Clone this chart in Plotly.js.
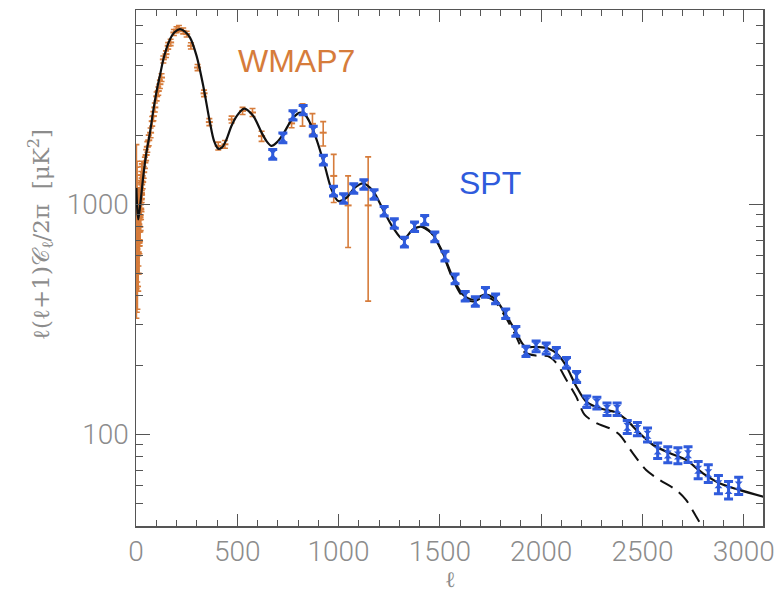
<!DOCTYPE html>
<html>
<head>
<meta charset="utf-8">
<script src="https://cdn.plot.ly/plotly-3.0.1.min.js"></script>
<style>html,body{margin:0;padding:0;background:#fff;}#chart{width:776px;height:596px;}</style>
</head>
<body>
<div id="chart"></div>
<script>
// ---- theory curve (solid: total incl. foregrounds) ----
var thEll = [2, 5, 11, 20, 36, 50, 69, 85, 102, 120, 135, 150, 168, 190, 217, 240, 266, 299, 332, 365, 385, 406, 425, 447, 470, 497, 534, 579, 620, 645, 669, 695, 726, 776, 812, 840, 858, 891, 932, 965, 998, 1039, 1080, 1121, 1170, 1219, 1269, 1318, 1367, 1409, 1458, 1507, 1565, 1614, 1663, 1721, 1770, 1820, 1869, 1918, 1976, 2033, 2083, 2124, 2173, 2222, 2288, 2370, 2420, 2485, 2551, 2633, 2715, 2797, 2880, 2978, 3100];
var thVal = [1180, 1000, 860, 980, 1328, 1650, 2055, 2550, 3113, 3700, 4276, 4750, 5224, 5600, 5780, 5650, 5322, 4423, 3274, 2269, 1890, 1748, 1770, 1919, 2180, 2422, 2610, 2422, 2051, 1880, 1795, 1860, 2018, 2384, 2507, 2420, 2269, 1919, 1468, 1162, 1034, 1069, 1182, 1234, 1143, 951, 792, 704, 778, 800, 753, 637, 479, 405, 386, 405, 390, 338, 286, 242, 240, 237, 222, 198, 162, 139, 130, 124.7, 116, 101.4, 90.2, 83, 77.5, 67.9, 61.4, 57.4, 53.5];

// ---- theory curve (dashed: CMB only) ----
var cmbEll = [1409, 1458, 1507, 1565, 1614, 1663, 1721, 1770, 1820, 1869, 1918, 1976, 2033, 2074, 2124, 2173, 2214, 2272, 2346, 2387, 2452, 2518, 2584, 2666, 2715, 2765, 2794, 2820];
var cmbVal = [800, 750, 632, 470, 396, 378, 396, 380, 328, 275, 228, 220, 219, 205, 173, 146, 122, 112, 105.6, 99.7, 83, 70, 63.5, 57.4, 52, 44, 39.8, 36];

// ---- WMAP7 band powers ----
var wmapEll = [2, 3, 4, 5, 6, 7, 8, 9, 10, 11, 12, 13, 14, 15, 16, 17, 18, 19, 20, 21, 22, 23, 24, 25, 26, 27, 28, 29, 30,
  33, 38, 44, 50, 56, 63, 72, 80, 86, 93, 102, 110, 118, 126, 135, 148, 159, 171, 187, 200, 212, 233, 250, 271, 304, 336, 362,
  406, 439, 472, 526, 575, 620, 768, 822, 871, 924, 976, 1047, 1146];
var wmapVal = [700, 850, 640, 980, 760, 600, 700, 760, 660, 620, 760, 700, 820, 680, 880, 800, 860, 900, 880, 950, 1000, 960, 1100, 1050, 1150, 1120, 1220, 1260, 1300,
  1250, 1380, 1520, 1640, 1780, 1900, 2050, 2300, 2420, 2640, 2950, 3110, 3330, 3560, 4270, 4500, 4890, 5060, 5590, 5750, 5820, 5680, 5500, 4890, 3935, 3040, 2280,
  1795, 1825, 2340, 2550, 2510, 1980, 2250, 2480, 2240, 2050, 1330, 990, 990];
var wmapErrUp = [1120, 600, 500, 560, 400, 320, 330, 330, 280, 250, 280, 250, 270, 220, 270, 230, 240, 240, 230, 230, 240, 220, 240, 220, 240, 220, 240, 240, 240,
  80, 80, 85, 90, 95, 100, 100, 110, 110, 120, 130, 130, 140, 140, 150, 150, 160, 160, 170, 170, 170, 170, 160, 150, 120, 100, 80,
  70, 70, 80, 90, 100, 100, 95, 260, 240, 240, 320, 340, 620];
var wmapErrDown = [380, 420, 300, 420, 300, 250, 260, 260, 220, 200, 220, 200, 220, 180, 220, 190, 200, 200, 190, 190, 200, 190, 200, 190, 200, 190, 200, 200, 200,
  80, 80, 85, 90, 95, 100, 100, 110, 110, 120, 130, 130, 140, 140, 150, 150, 160, 160, 170, 170, 170, 170, 160, 150, 120, 100, 80,
  70, 70, 80, 90, 100, 100, 95, 290, 220, 255, 310, 340, 610];

// ---- SPT band powers ----
var sptEll = [675, 725, 775, 825, 875, 925, 975, 1025, 1075, 1125, 1175, 1225, 1275, 1325, 1375, 1425, 1475, 1525, 1575, 1625, 1675, 1725, 1775, 1825, 1875, 1925, 1975, 2025, 2075, 2125, 2175, 2225, 2275, 2325, 2375, 2425, 2475, 2525, 2575, 2625, 2675, 2725, 2775, 2825, 2875, 2925, 2975];
var sptVal = [1651, 1950, 2441, 2574, 2085, 1560, 1143, 1062, 1174, 1222, 1105, 935, 827, 686, 800, 856, 724, 596, 475, 399, 379, 415, 389, 335, 281, 230, 242, 237, 227, 205, 178, 139, 137, 129, 129, 108, 105.6, 99.7, 85.2, 81.9, 81, 82, 70.2, 67.8, 60.8, 57.4, 60];
var sptErr = [80, 95, 115, 120, 100, 75, 55, 50, 55, 58, 52, 45, 40, 33, 38, 40, 35, 29, 23, 19, 18, 20, 19, 16, 14, 12, 13, 13, 12, 11, 10, 8, 8, 8, 8, 7, 7, 7, 6.5, 6.5, 6.5, 6.5, 6, 6, 5.5, 5, 5.2];

// ---- axis ticks ----
var xTicks = [0, 500, 1000, 1500, 2000, 2500, 3000];
var xMinor = [100, 200, 300, 400, 600, 700, 800, 900, 1100, 1200, 1300, 1400, 1600, 1700, 1800, 1900, 2100, 2200, 2300, 2400, 2600, 2700, 2800, 2900];
var yTicks = [100, 1000];
var yTickText = ['100', '1000'];
var yMinor = [40, 50, 60, 70, 80, 90, 200, 300, 400, 500, 600, 700, 800, 900, 2000, 3000, 4000, 5000, 6000, 7000];

var ORANGE = '#d67c3b';
var BLUE = '#2f5bdc';
var GREY = '#8c8c8c';
var AX = '#555555';
var TICKFONT = {size: 28, color: GREY, family: 'Roboto, Liberation Sans, sans-serif', weight: 300};

var traces = [
  {x: cmbEll, y: cmbVal, mode: 'lines', line: {color: '#111', width: 2, dash: '14px,8px', shape: 'spline', smoothing: 0.8}, hoverinfo: 'skip'},
  {x: wmapEll, y: wmapVal, mode: 'markers', marker: {symbol: 'line-ew', size: 5, color: ORANGE, line: {color: ORANGE, width: 2}},
   error_y: {type: 'data', symmetric: false, array: wmapErrUp, arrayminus: wmapErrDown, color: ORANGE, thickness: 1.6, width: 3}},
  {x: thEll, y: thVal, mode: 'lines', line: {color: '#111', width: 2.2, shape: 'spline', smoothing: 0.8}},
  {x: sptEll, y: sptVal, mode: 'markers', marker: {symbol: 'hourglass', size: 8, color: BLUE, line: {width: 0}},
   error_y: {type: 'data', array: sptErr, color: BLUE, thickness: 3, width: 4.5}}
];

var PW = 776 - 136 - 13, PH = 596 - 10 - 70;
function px2paperX(px) { return (px - 136) / PW; }
function px2paperY(py) { return (596 - 70 - py) / PH; }

var layout = {
  width: 776, height: 596,
  margin: {l: 136, r: 13, t: 10, b: 70},
  paper_bgcolor: '#fff', plot_bgcolor: '#fff',
  showlegend: false,
  font: {family: 'Roboto, Liberation Sans, sans-serif', color: GREY},
  xaxis: {
    range: [0, 3095], showgrid: false, zeroline: false,
    showline: true, linecolor: AX, linewidth: 1.5, mirror: 'ticks',
    ticks: 'inside', ticklen: 12, tickwidth: 1.2, tickcolor: AX,
    tickmode: 'array', tickvals: xTicks, ticklabeloverflow: 'allow',
    tickfont: TICKFONT,
    minor: {tickmode: 'array', tickvals: xMinor, ticks: 'inside', ticklen: 6, tickwidth: 1, tickcolor: AX, showgrid: false}
  },
  yaxis: {
    type: 'log', range: [Math.log10(40), Math.log10(7000)], showgrid: false, zeroline: false,
    showline: true, linecolor: AX, linewidth: 1.5, mirror: 'ticks',
    ticks: 'inside', ticklen: 14, tickwidth: 1.2, tickcolor: AX,
    tickmode: 'array', tickvals: yTicks, ticktext: yTickText,
    tickfont: TICKFONT,
    minor: {tickmode: 'array', tickvals: yMinor, ticks: 'inside', ticklen: 7, tickwidth: 1, tickcolor: AX, showgrid: false}
  },
  annotations: [
    {x: 790, y: Math.log10(4200), xref: 'x', yref: 'y', text: 'WMAP7', showarrow: false,
     font: {size: 32, color: ORANGE, family: 'Liberation Sans, Arial, sans-serif'}},
    {x: 1745, y: Math.log10(1234), xref: 'x', yref: 'y', text: 'SPT', showarrow: false,
     font: {size: 32, color: BLUE, family: 'Liberation Sans, Arial, sans-serif'}},
    {x: px2paperX(40), y: px2paperY(235), xref: 'paper', yref: 'paper', xanchor: 'center', yanchor: 'middle', textangle: -90,
     text: 'ℓ(ℓ+1)𝒞<sub>ℓ</sub>/2π  [μK<sup>2</sup>]', showarrow: false,
     font: {size: 23, color: GREY, family: 'DejaVu Serif, serif'}},
    {x: px2paperX(450), y: px2paperY(579), xref: 'paper', yref: 'paper', xanchor: 'center', yanchor: 'middle',
     text: 'ℓ', showarrow: false, borderpad: 0,
     font: {size: 22, color: GREY, family: 'DejaVu Serif, serif'}}
  ]
};

Plotly.newPlot('chart', traces, layout, {displayModeBar: false, staticPlot: true});
</script>
</body>
</html>
